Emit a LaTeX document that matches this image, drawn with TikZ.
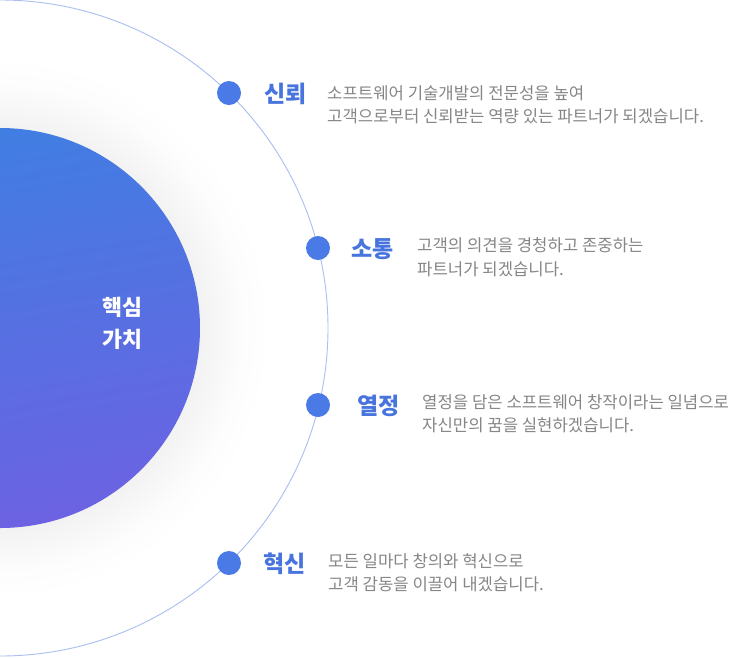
\documentclass[tikz,border=0pt]{standalone}
\usepackage{fontspec}
\setmainfont{Noto Sans CJK KR}
\definecolor{ringblue}{RGB}{170,190,240}
\definecolor{dotblue}{RGB}{74,122,230}
\definecolor{lblblue}{RGB}{72,116,222}
\definecolor{bodygray}{RGB}{134,134,134}
\definecolor{gtop}{RGB}{64,126,226}
\definecolor{gbot}{RGB}{108,98,226}
\pgfdeclareradialshading{coreglow}{\pgfpointorigin}{color(0bp)=(black!5); color(18.5bp)=(black!5); color(20.5bp)=(black!3); color(22.5bp)=(black!1); color(25bp)=(white); color(50bp)=(white)}
\tikzset{
  dotmark/.style={circle, fill=dotblue, minimum size=24pt, inner sep=0pt},
  lbl/.style={anchor=base west, inner sep=0pt, text=lblblue, font=\fontsize{23pt}{26pt}\selectfont\bfseries},
  body/.style={anchor=base west, inner sep=0pt, text=bodygray, font=\fontsize{16.7pt}{20pt}\selectfont},
}
\begin{document}
\begin{tikzpicture}[x=1pt,y=-1pt]
\useasboundingbox (0,0) rectangle (730,657);
\clip (0,0) rectangle (730,657);
\fill[white] (0,0) rectangle (730,657);
\coordinate (C) at (0,328);
\shade[shading=coreglow] (C) circle (270pt);
\draw[ringblue, line width=0.9pt] (C) circle (328pt);
\shade[top color=gtop, bottom color=gbot, shading angle=10] (C) circle (200pt);
\node[text=white, align=center, font=\fontsize{21.7pt}{32pt}\selectfont\bfseries, inner sep=0pt] (core) at (122,323) {핵심\\가치};

\node[dotmark] (d1) at (229,93) {};
\node[dotmark] (d2) at (318,248) {};
\node[dotmark] (d3) at (318,405) {};
\node[dotmark] (d4) at (229,563) {};

\node[lbl] (l1) at (264,102.5) {신뢰};
\node[lbl] (l2) at (351,257) {소통};
\node[lbl] (l3) at (357,414.5) {열정};
\node[lbl] (l4) at (263,572.5) {혁신};

\node[body] (b1a) at (327,99.2) {소프트웨어 기술개발의 전문성을 높여};
\node[body] (b1b) at (327,122.2) {고객으로부터 신뢰받는 역량 있는 파트너가 되겠습니다.};
\node[body] (b2a) at (417,251.7) {고객의 의견을 경청하고 존중하는};
\node[body] (b2b) at (417,275.2) {파트너가 되겠습니다.};
\node[body] (b3a) at (422,408.2) {열정을 담은 소프트웨어 창작이라는 일념으로};
\node[body] (b3b) at (422,431.2) {자신만의 꿈을 실현하겠습니다.};
\node[body] (b4a) at (328,567.2) {모든 일마다 창의와 혁신으로};
\node[body] (b4b) at (328,590.2) {고객 감동을 이끌어 내겠습니다.};
\end{tikzpicture}
\end{document}
